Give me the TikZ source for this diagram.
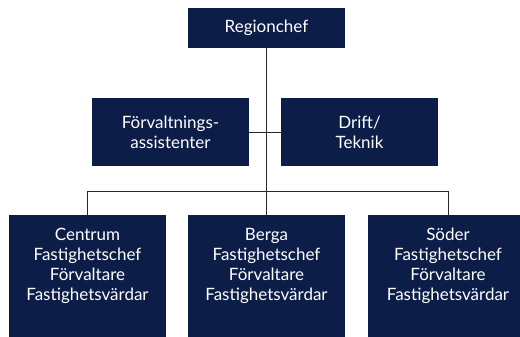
\documentclass[tikz,border=0pt]{standalone}
\usepackage{fontspec}
\setmainfont{Lato}
\definecolor{navy}{RGB}{12,30,72}
\definecolor{linegrey}{RGB}{40,40,40}
\begin{document}
\begin{tikzpicture}[x=1pt,y=1pt,
  box/.style={fill=navy, draw=none, inner sep=0pt},
  topbox/.style={box, minimum width=157pt, minimum height=40pt},
  midbox/.style={box, minimum width=157pt, minimum height=68pt},
  leafbox/.style={box, minimum width=157pt, minimum height=140pt},
  label/.style={text=white, align=center, font=\fontsize{17}{20}\selectfont, inner sep=0pt},
  conn/.style={draw=linegrey, line width=0.9pt}]
  \useasboundingbox (0,0) rectangle (520,-337);
  \clip (0,0) rectangle (520,-337);

  % head of the region
  \node[topbox] (chef) at (266.5,-28) {};
  \node[label] (chefT) at (chef) {Regionchef};

  % staff functions
  \node[midbox] (forv) at (170.5,-132) {};
  \node[label] (forvT) at (forv) {Förvaltnings-\\assistenter};
  \node[midbox] (drift) at (359.5,-132) {};
  \node[label] (driftT) at (drift) {Drift/\\Teknik};

  % district units
  \node[leafbox, anchor=north] (centrum) at (87.5,-215) {};
  \node[leafbox, anchor=north] (berga) at (266.5,-215) {};
  \node[leafbox, anchor=north, minimum width=160pt] (soder) at (448,-215) {};
  \node[label, anchor=north] (centrumT) at ([yshift=-13pt]centrum.north)
    {Centrum\\Fastighetschef\\Förvaltare\\Fastighetsvärdar};
  \node[label, anchor=north] (bergaT) at ([yshift=-13pt]berga.north)
    {Berga\\Fastighetschef\\Förvaltare\\Fastighetsvärdar};
  \node[label, anchor=north] (soderT) at ([yshift=-13pt]soder.north)
    {Söder\\Fastighetschef\\Förvaltare\\Fastighetsvärdar};

  % connectors
  \draw[conn] (chef.south) -- (berga.north);
  \draw[conn] (forv.east) -- (drift.west);
  \draw[conn] (centrum.north) -- ++(0,24) -| (soder.north);
\end{tikzpicture}
\end{document}
